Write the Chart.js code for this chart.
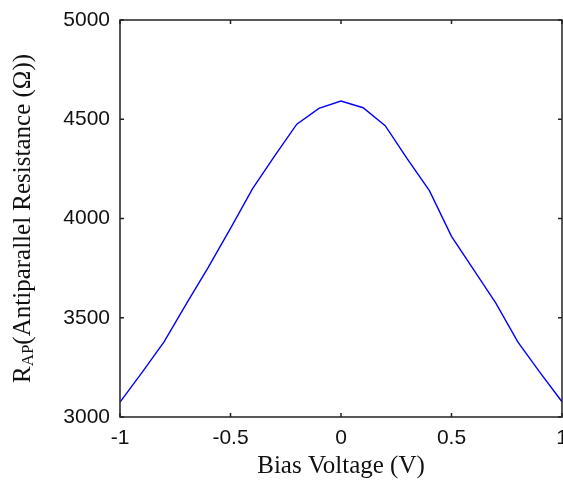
<!DOCTYPE html>
<html>
<head>
<meta charset="utf-8">
<script src="https://cdn.jsdelivr.net/npm/chart.js@4.4.1/dist/chart.umd.min.js"></script>
<style>
  html, body { margin: 0; padding: 0; background: #fff; }
  #wrap { width: 563px; height: 482px; position: relative; }
</style>
</head>
<body>
<div id="wrap"><canvas id="chart_resistance"></canvas></div>
<script>
// bias voltage (V) and antiparallel resistance (ohm)
var voltage = [-1, -0.9, -0.8, -0.7, -0.6, -0.5, -0.4, -0.3, -0.2, -0.1, 0,
               0.1, 0.2, 0.3, 0.4, 0.5, 0.6, 0.7, 0.8, 0.9, 1];
var resistance = [3075, 3225, 3380, 3570, 3755, 3950, 4150, 4315, 4475, 4555, 4592,
                  4558, 4468, 4300, 4140, 3910, 3742, 3575, 3378, 3225, 3077];
var xTicks = [-1, -0.5, 0, 0.5, 1];
var yTicks = [3000, 3500, 4000, 4500, 5000];

var points = voltage.map(function (v, i) { return { x: v, y: resistance[i] }; });

var frame = {
    id: 'matlabFrame',
    beforeDraw: function (chart) {
        var ctx = chart.ctx;
        ctx.save();
        ctx.fillStyle = 'white';
        ctx.fillRect(0, 0, chart.width, chart.height);
        ctx.restore();
    },
    afterDraw: function (chart) {
        var ctx = chart.ctx;
        var a = chart.chartArea;
        var xs = chart.scales.x, ys = chart.scales.y;
        var tl = 4;
        ctx.save();
        ctx.strokeStyle = '#222';
        ctx.lineWidth = 1.5;
        ctx.strokeRect(a.left, a.top, a.right - a.left, a.bottom - a.top);
        ctx.beginPath();
        xTicks.forEach(function (t) {
            var px = xs.getPixelForValue(t);
            ctx.moveTo(px, a.bottom); ctx.lineTo(px, a.bottom - tl);
            ctx.moveTo(px, a.top); ctx.lineTo(px, a.top + tl);
        });
        yTicks.forEach(function (t) {
            var py = ys.getPixelForValue(t);
            ctx.moveTo(a.left, py); ctx.lineTo(a.left + tl, py);
            ctx.moveTo(a.right, py); ctx.lineTo(a.right - tl, py);
        });
        ctx.stroke();

        // axis titles
        ctx.fillStyle = '#111';
        ctx.font = '25px "Liberation Serif"';
        ctx.textAlign = 'center';
        ctx.textBaseline = 'middle';
        ctx.fillText('Bias Voltage (V)', (a.left + a.right) / 2, 466);

        var big = '25px "Liberation Serif"', small = '17px "Liberation Serif"';
        var parts = [['R', big, 0], ['AP', small, 6], ['(Antiparallel Resistance (\u03A9))', big, 0]];
        var total = 0;
        parts.forEach(function (p) { ctx.font = p[1]; total += ctx.measureText(p[0]).width; });
        ctx.translate(23, (a.top + a.bottom) / 2);
        ctx.rotate(-Math.PI / 2);
        ctx.textAlign = 'left';
        var cx = -total / 2;
        parts.forEach(function (p) {
            ctx.font = p[1];
            ctx.fillText(p[0], cx, p[2]);
            cx += ctx.measureText(p[0]).width;
        });
        ctx.restore();
    }
};

var chart_resistance = new Chart(document.getElementById('chart_resistance'), {
    type: 'line',
    data: {
        datasets: [
            {
                label: 'R_AP',
                data: points,
                borderColor: '#0000ff',
                borderWidth: 1.4,
                pointRadius: 0,
                tension: 0,
                fill: false
            }
        ]
    },
    options: {
        animation: false,
        responsive: true,
        maintainAspectRatio: false,
        layout: { padding: { top: 20, right: 1, left: 0, bottom: 0 } },
        plugins: {
            legend: { display: false },
            tooltip: { enabled: false }
        },
        scales: {
            x: {
                type: 'linear',
                min: -1,
                max: 1,
                afterFit: function (s) { s.height = 65; s.paddingLeft = 0; s.paddingRight = 0; },
                afterBuildTicks: function (s) { s.ticks = xTicks.map(function (v) { return { value: v }; }); },
                grid: { display: false, drawTicks: false },
                border: { display: false },
                ticks: {
                    padding: 9,
                    color: '#111',
                    font: { family: '"Liberation Sans"', size: 21 },
                    maxRotation: 0,
                    callback: function (v) { return String(v); }
                }
            },
            y: {
                type: 'linear',
                min: 3000,
                max: 5000,
                afterFit: function (s) { s.width = 120; s.paddingTop = 0; s.paddingBottom = 0; },
                afterBuildTicks: function (s) { s.ticks = yTicks.map(function (v) { return { value: v }; }); },
                grid: { display: false, drawTicks: false },
                border: { display: false },
                ticks: {
                    padding: 10,
                    color: '#111',
                    font: { family: '"Liberation Sans"', size: 21 },
                    callback: function (v) { return String(v); }
                }
            }
        }
    },
    plugins: [frame]
});
</script>
</body>
</html>
